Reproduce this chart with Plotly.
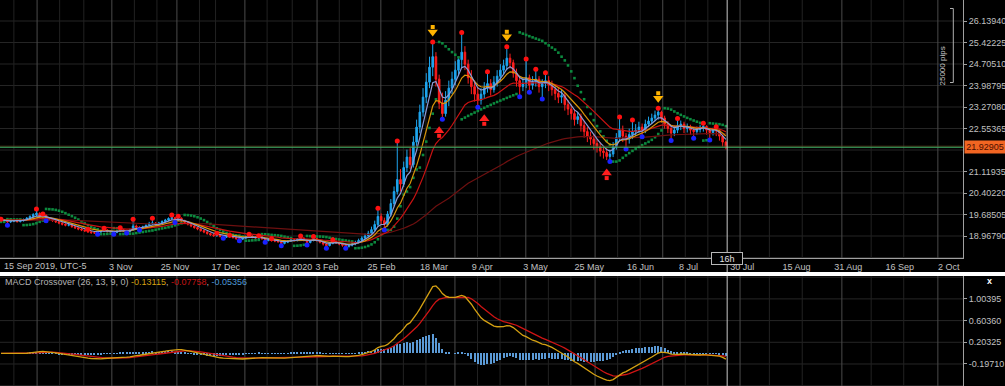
import numpy as np
import pandas as pd
import plotly.graph_objects as go

# ---------------- data (daily bars) ----------------
bar_open = [
    19.47, 19.50, 19.51, 19.44, 19.46, 19.49, 19.45, 19.48, 19.52, 19.56,
    19.62, 19.68, 19.72, 19.62, 19.66, 19.56, 19.53, 19.48, 19.44, 19.40,
    19.36, 19.33, 19.34, 19.28, 19.24, 19.20, 19.17, 19.14, 19.11, 19.08,
    19.07, 19.10, 19.13, 19.17, 19.12, 19.10, 19.09, 19.13, 19.18, 19.14,
    19.11, 19.17, 19.30, 19.26, 19.22, 19.27, 19.32, 19.38, 19.40, 19.35,
    19.40, 19.45, 19.50, 19.55, 19.58, 19.50, 19.56, 19.48, 19.42, 19.36,
    19.30, 19.25, 19.20, 19.15, 19.10, 19.05, 19.01, 18.98, 18.99, 18.96,
    18.93, 18.95, 18.96, 18.92, 18.88, 18.86, 18.90, 18.94, 18.97, 18.93,
    18.90, 18.94, 18.88, 18.82, 18.84, 18.82, 18.80, 18.78, 18.72, 18.76,
    18.80, 18.84, 18.82, 18.87, 18.90, 18.83, 18.75, 18.82, 18.88, 18.82,
    18.76, 18.70, 18.65, 18.72, 18.79, 18.74, 18.70, 18.66, 18.62, 18.66,
    18.70, 18.76, 18.82, 18.90, 18.97, 19.06, 19.18, 19.35, 19.62, 19.48,
    19.35, 19.70, 20.05, 20.45, 20.85, 20.70, 21.25, 21.60, 21.35, 22.10,
    22.60, 23.10, 23.60, 24.10, 24.60, 24.95, 24.20, 23.40, 23.05, 23.50,
    23.90, 24.20, 24.50, 24.85, 25.10, 24.70, 24.25, 23.95, 23.70, 23.50,
    23.70, 23.90, 24.05, 23.85, 24.10, 24.30, 24.50, 24.65, 24.90, 24.75,
    24.40, 24.15, 23.95, 24.05, 24.25, 24.00, 24.10, 24.20, 23.95, 24.05,
    24.15, 24.00, 23.85, 23.72, 23.60, 23.65, 23.35, 23.20, 23.05, 22.85,
    22.95, 22.65, 22.45, 22.30, 22.20, 22.05, 21.95, 21.80, 21.75, 21.62,
    21.70, 21.95, 22.25, 22.50, 22.30, 22.20, 22.35, 22.45, 22.50, 22.60,
    22.50, 22.70, 22.80, 22.90, 23.00, 23.10, 22.90, 22.70, 22.55, 22.40,
    22.50, 22.65, 22.70, 22.55, 22.60, 22.50, 22.45, 22.52, 22.60, 22.62,
    22.50, 22.42, 22.50, 22.48, 22.30, 22.10,
]
bar_high = [
    19.53, 19.52, 19.52, 19.49, 19.52, 19.51, 19.51, 19.55, 19.60, 19.66,
    19.73, 19.87, 19.76, 19.70, 19.68, 19.60, 19.56, 19.51, 19.47, 19.43,
    19.39, 19.38, 19.36, 19.31, 19.27, 19.23, 19.17, 19.19, 19.13, 19.11,
    19.13, 19.16, 19.23, 19.19, 19.15, 19.13, 19.17, 19.24, 19.20, 19.17,
    19.21, 19.53, 19.35, 19.29, 19.31, 19.36, 19.44, 19.56, 19.43, 19.44,
    19.49, 19.54, 19.59, 19.67, 19.61, 19.63, 19.59, 19.51, 19.45, 19.39,
    19.33, 19.28, 19.23, 19.18, 19.13, 19.08, 19.04, 19.06, 19.02, 18.99,
    18.98, 18.99, 18.98, 18.95, 18.91, 18.93, 18.98, 19.03, 18.99, 18.96,
    18.98, 18.96, 18.90, 18.87, 18.88, 18.85, 18.83, 18.80, 18.79, 18.83,
    18.87, 18.88, 18.90, 18.97, 18.92, 18.85, 18.85, 18.95, 18.90, 18.84,
    18.78, 18.73, 18.76, 18.84, 18.81, 18.77, 18.73, 18.69, 18.70, 18.74,
    18.81, 18.88, 18.96, 19.05, 19.14, 19.28, 19.48, 19.89, 19.72, 19.58,
    19.80, 20.20, 20.62, 22.14, 21.20, 21.45, 21.85, 21.90, 22.30, 22.85,
    23.35, 23.90, 24.40, 24.95, 25.44, 25.10, 24.35, 23.75, 23.80, 24.15,
    24.45, 24.80, 24.90, 25.76, 25.30, 24.85, 24.50, 24.15, 23.95, 23.90,
    24.10, 24.45, 24.20, 24.30, 24.50, 24.70, 24.85, 25.28, 25.05, 24.85,
    24.55, 24.30, 24.25, 24.87, 24.35, 24.30, 24.53, 24.30, 24.20, 24.41,
    24.30, 24.15, 24.00, 23.90, 23.85, 23.75, 23.50, 23.35, 23.20, 23.10,
    23.05, 22.80, 22.60, 22.45, 22.35, 22.20, 22.10, 21.95, 21.90, 21.85,
    22.10, 22.40, 22.94, 22.65, 22.40, 22.55, 22.84, 22.70, 22.78, 22.72,
    22.85, 22.95, 23.05, 23.15, 23.23, 23.15, 22.98, 22.80, 22.65, 22.65,
    22.89, 22.82, 22.78, 22.72, 22.68, 22.60, 22.62, 22.68, 22.73, 22.66,
    22.55, 22.58, 22.61, 22.52, 22.35, 22.15,
]
bar_low = [
    19.44, 19.46, 19.33, 19.40, 19.43, 19.41, 19.42, 19.45, 19.49, 19.53,
    19.58, 19.63, 19.57, 19.56, 19.48, 19.49, 19.44, 19.40, 19.36, 19.32,
    19.29, 19.29, 19.24, 19.20, 19.16, 19.13, 19.10, 19.07, 19.04, 19.04,
    19.03, 19.07, 19.10, 19.08, 19.06, 19.03, 19.06, 19.10, 19.10, 19.07,
    19.09, 19.14, 19.21, 19.17, 19.19, 19.24, 19.29, 19.34, 19.30, 19.32,
    19.37, 19.42, 19.47, 19.51, 19.42, 19.47, 19.44, 19.38, 19.32, 19.26,
    19.21, 19.16, 19.11, 19.06, 19.01, 18.97, 18.94, 18.94, 18.92, 18.89,
    18.90, 18.91, 18.88, 18.84, 18.81, 18.83, 18.87, 18.91, 18.89, 18.86,
    18.87, 18.84, 18.76, 18.79, 18.78, 18.76, 18.74, 18.64, 18.69, 18.73,
    18.77, 18.78, 18.79, 18.84, 18.79, 18.67, 18.72, 18.79, 18.78, 18.72,
    18.65, 18.56, 18.62, 18.69, 18.70, 18.66, 18.61, 18.56, 18.58, 18.62,
    18.66, 18.72, 18.78, 18.86, 18.93, 19.02, 19.12, 19.30, 19.36, 19.17,
    19.28, 19.62, 19.96, 20.35, 20.45, 20.60, 21.10, 21.20, 21.25, 21.95,
    22.40, 22.95, 23.40, 23.90, 24.30, 23.95, 23.20, 22.86, 22.95, 23.30,
    23.70, 24.00, 24.30, 24.60, 24.50, 24.05, 23.70, 23.45, 23.26, 23.35,
    23.55, 23.75, 23.65, 23.75, 23.95, 24.15, 24.35, 24.50, 24.55, 24.25,
    23.95, 23.61, 23.80, 23.90, 23.76, 23.85, 23.95, 23.75, 23.54, 23.90,
    23.80, 23.65, 23.50, 23.40, 23.40, 23.15, 23.00, 22.85, 22.65, 22.70,
    22.45, 22.25, 22.10, 22.00, 21.85, 21.75, 21.62, 21.55, 21.50, 21.45,
    21.60, 21.85, 22.15, 22.10, 21.87, 22.05, 22.20, 22.30, 22.40, 22.28,
    22.40, 22.60, 22.70, 22.80, 22.85, 22.75, 22.55, 22.40, 22.15, 22.30,
    22.40, 22.50, 22.40, 22.42, 22.35, 22.23, 22.35, 22.42, 22.45, 22.35,
    22.17, 22.32, 22.30, 22.15, 21.95, 21.86,
]
bar_close = [
    19.50, 19.51, 19.44, 19.46, 19.49, 19.45, 19.48, 19.52, 19.56, 19.62,
    19.68, 19.72, 19.62, 19.66, 19.56, 19.53, 19.48, 19.44, 19.40, 19.36,
    19.33, 19.34, 19.28, 19.24, 19.20, 19.17, 19.14, 19.11, 19.08, 19.07,
    19.10, 19.13, 19.17, 19.12, 19.10, 19.09, 19.13, 19.18, 19.14, 19.11,
    19.17, 19.30, 19.26, 19.22, 19.27, 19.32, 19.38, 19.40, 19.35, 19.40,
    19.45, 19.50, 19.55, 19.58, 19.50, 19.56, 19.48, 19.42, 19.36, 19.30,
    19.25, 19.20, 19.15, 19.10, 19.05, 19.01, 18.98, 18.99, 18.96, 18.93,
    18.95, 18.96, 18.92, 18.88, 18.86, 18.90, 18.94, 18.97, 18.93, 18.90,
    18.94, 18.88, 18.82, 18.84, 18.82, 18.80, 18.78, 18.72, 18.76, 18.80,
    18.84, 18.82, 18.87, 18.90, 18.83, 18.75, 18.82, 18.88, 18.82, 18.76,
    18.70, 18.65, 18.72, 18.79, 18.74, 18.70, 18.66, 18.62, 18.66, 18.70,
    18.76, 18.82, 18.90, 18.97, 19.06, 19.18, 19.35, 19.62, 19.48, 19.35,
    19.70, 20.05, 20.45, 20.85, 20.70, 21.25, 21.60, 21.35, 22.10, 22.60,
    23.10, 23.60, 24.10, 24.60, 24.95, 24.20, 23.40, 23.05, 23.50, 23.90,
    24.20, 24.50, 24.85, 25.10, 24.70, 24.25, 23.95, 23.70, 23.50, 23.70,
    23.90, 24.05, 23.85, 24.10, 24.30, 24.50, 24.65, 24.90, 24.75, 24.40,
    24.15, 23.95, 24.05, 24.25, 24.00, 24.10, 24.20, 23.95, 24.05, 24.15,
    24.00, 23.85, 23.72, 23.60, 23.65, 23.35, 23.20, 23.05, 22.85, 22.95,
    22.65, 22.45, 22.30, 22.20, 22.05, 21.95, 21.80, 21.75, 21.62, 21.70,
    21.95, 22.25, 22.50, 22.30, 22.20, 22.35, 22.45, 22.50, 22.60, 22.50,
    22.70, 22.80, 22.90, 23.00, 23.10, 22.90, 22.70, 22.55, 22.40, 22.50,
    22.65, 22.70, 22.55, 22.60, 22.50, 22.45, 22.52, 22.60, 22.62, 22.50,
    22.42, 22.50, 22.48, 22.30, 22.10, 21.929,
]

# fractal markers (bar indices)
fractal_high_idx = [0, 11, 13, 27, 32, 37, 41, 47, 53, 55, 67, 71, 77, 80, 84, 93, 97, 103,
                    117, 123, 134, 143, 151, 157, 163, 166, 169, 192, 196, 204, 210, 218, 222]
fractal_low_idx = [2, 14, 30, 35, 39, 43, 54, 69, 74, 82, 87, 95, 101, 107, 119, 137, 148,
                   161, 164, 168, 189, 194, 199, 208, 215, 220]
# signal arrows (bar indices)
sell_arrow_idx = [134, 157, 204]
buy_arrow_idx = [136, 150, 188]

# time axis labels (positions in bar units)
first_date_label = "15 Sep 2019, UTC-5"
date_tick_pos = [37.2, 54.0, 69.8, 88.9, 101.2, 118.1, 134.4, 149.4, 165.9, 182.6,
                 198.5, 213.4, 230.1, 246.9, 263.0, 279.0, 294.2]
date_tick_text = ["3 Nov", "25 Nov", "17 Dec", "12 Jan 2020", "3 Feb",
                  "25 Feb", "18 Mar", "9 Apr", "3 May", "25 May", "16 Jun", "8 Jul", "30 Jul",
                  "15 Aug", "31 Aug", "16 Sep", "2 Oct"]
month_lines = [11.2, 34.4, 54.6, 75.7, 98.1, 117.9, 140.9, 162.9, 184.4, 205.4, 229.4, 261.0, 290.8]
minor_lines = [4.0, 18.2, 25.7, 41.4, 48.4, 61.6, 66.6, 82.6, 90.4, 105.0, 112.0, 124.9, 131.9,
               147.9, 154.9, 169.9, 176.9, 191.4, 198.4, 212.4, 219.4, 238.5, 248.7, 270.1, 280.2]

price_ticks = [26.13940, 25.42225, 24.70510, 23.98795, 23.27080, 22.55365,
               21.11935, 20.40220, 19.68505, 18.96790]
price_grid = [26.85655, 26.13940, 25.42225, 24.70510, 23.98795, 23.27080, 22.55365,
              21.83650, 21.11935, 20.40220, 19.68505, 18.96790, 18.25075]
macd_ticks = [1.00395, 0.60360, 0.20325, -0.19710]
macd_grid = [1.40430, 1.00395, 0.60360, 0.20325, -0.19710, -0.59745]
last_price = 21.92905
macd_legend_values = ["-0.13115", "-0.07758", "-0.05356"]

# ---------------- indicators ----------------
n = len(bar_close)
xi = np.arange(n)
cs = pd.Series(bar_close, dtype=float)
ema5 = cs.ewm(span=5, adjust=False).mean()
ema9 = cs.ewm(span=9, adjust=False).mean()
ema21 = cs.ewm(span=21, adjust=False).mean()
ema100 = cs.ewm(span=100, adjust=False).mean()
macd = cs.ewm(span=13, adjust=False).mean() - cs.ewm(span=26, adjust=False).mean()
signal = macd.ewm(span=9, adjust=False).mean()
hist = macd - signal


def parabolic_sar(high, low, step=0.02, max_step=0.2):
    out = [np.nan] * len(high)
    up = True
    af = step
    ep = high[0]
    out[0] = low[0]
    for i in range(1, len(high)):
        s = out[i - 1] + af * (ep - out[i - 1])
        if up:
            s = min(s, low[i - 1], low[max(i - 2, 0)])
            if low[i] < s:
                up, s, ep, af = False, ep, low[i], step
            elif high[i] > ep:
                ep, af = high[i], min(af + step, max_step)
        else:
            s = max(s, high[i - 1], high[max(i - 2, 0)])
            if high[i] > s:
                up, s, ep, af = True, ep, high[i], step
            elif low[i] < ep:
                ep, af = low[i], min(af + step, max_step)
        out[i] = s
    return out


sar = parabolic_sar(bar_high, bar_low)

hi = np.array(bar_high)
lo = np.array(bar_low)
sell_y = [hi[max(i - 2, 0):i + 3].max() + 0.33 for i in sell_arrow_idx]
buy_y = [lo[max(i - 2, 0):i + 3].min() - 0.38 for i in buy_arrow_idx]

# ---------------- figure ----------------
FONT = "Liberation Sans, Arial, sans-serif"
fig = go.Figure()

fig.add_trace(go.Scatter(x=xi, y=sar, mode="markers", marker=dict(symbol="square", size=2.6, color="#0c8a3e"),
                         xaxis="x", yaxis="y"))
fig.add_trace(go.Candlestick(x=xi, open=bar_open, high=bar_high, low=bar_low, close=bar_close,
                             increasing=dict(line=dict(color="#1ea5ee", width=1), fillcolor="#1ea5ee"),
                             decreasing=dict(line=dict(color="#ff1e1e", width=1), fillcolor="#ff1e1e"),
                             whiskerwidth=0, xaxis="x", yaxis="y"))
fig.add_trace(go.Scatter(x=xi, y=ema100, mode="lines", line=dict(color="#6e1010", width=1.2), xaxis="x", yaxis="y"))
fig.add_trace(go.Scatter(x=xi, y=ema21, mode="lines", line=dict(color="#c81212", width=1.2), xaxis="x", yaxis="y"))
fig.add_trace(go.Scatter(x=xi, y=ema9, mode="lines", line=dict(color="#d8940a", width=1.2), xaxis="x", yaxis="y"))
fig.add_trace(go.Scatter(x=xi, y=ema5, mode="lines", line=dict(color="#8c9ad6", width=1.2), xaxis="x", yaxis="y"))
fig.add_trace(go.Scatter(x=fractal_high_idx, y=[bar_high[i] for i in fractal_high_idx], mode="markers",
                         marker=dict(size=5, color="#ff1010"), xaxis="x", yaxis="y"))
fig.add_trace(go.Scatter(x=fractal_low_idx, y=[bar_low[i] for i in fractal_low_idx], mode="markers",
                         marker=dict(size=5, color="#1a22ff"), xaxis="x", yaxis="y"))
# arrows: head + stem
fig.add_trace(go.Scatter(x=sell_arrow_idx, y=sell_y, mode="markers",
                         marker=dict(symbol="triangle-down", size=9, color="#ffb300"), xaxis="x", yaxis="y"))
fig.add_trace(go.Scatter(x=sell_arrow_idx, y=[v + 0.17 for v in sell_y], mode="markers",
                         marker=dict(symbol="square", size=4, color="#ffb300"), xaxis="x", yaxis="y"))
fig.add_trace(go.Scatter(x=buy_arrow_idx, y=buy_y, mode="markers",
                         marker=dict(symbol="triangle-up", size=9, color="#ff1e1e"), xaxis="x", yaxis="y"))
fig.add_trace(go.Scatter(x=buy_arrow_idx, y=[v - 0.17 for v in buy_y], mode="markers",
                         marker=dict(symbol="square", size=4, color="#ff1e1e"), xaxis="x", yaxis="y"))

# MACD panel
fig.add_trace(go.Bar(x=xi, y=hist, width=0.35, marker=dict(color="#5b9ad6", line=dict(width=0)),
                     xaxis="x2", yaxis="y2"))
fig.add_trace(go.Scatter(x=xi, y=signal, mode="lines", line=dict(color="#d01414", width=1.3), xaxis="x2", yaxis="y2"))
fig.add_trace(go.Scatter(x=xi, y=macd, mode="lines", line=dict(color="#d4a012", width=1.3), xaxis="x2", yaxis="y2"))

shapes = []
for v in price_grid:
    shapes.append(dict(type="line", xref="x domain", x0=0, x1=1, yref="y", y0=v, y1=v,
                       line=dict(color="#252525", width=1), layer="below"))
for v in macd_grid:
    shapes.append(dict(type="line", xref="x2 domain", x0=0, x1=1, yref="y2", y0=v, y1=v,
                       line=dict(color="#252525", width=1), layer="below"))
for xv in minor_lines:
    for yr in ("y domain", "y2 domain"):
        shapes.append(dict(type="line", xref="x", x0=xv, x1=xv, yref=yr, y0=0, y1=1,
                           line=dict(color="#222222", width=1), layer="below"))
for xv in month_lines:
    for yr in ("y domain", "y2 domain"):
        shapes.append(dict(type="line", xref="x", x0=xv, x1=xv, yref=yr, y0=0, y1=1,
                           line=dict(color="#4a4a4a", width=1), layer="below"))
# last price line
shapes.append(dict(type="line", xref="x domain", x0=0, x1=1, yref="y", y0=last_price + 0.035, y1=last_price + 0.035,
                   line=dict(color="#5a3a18", width=0.8)))
shapes.append(dict(type="line", xref="x domain", x0=0, x1=1, yref="y", y0=last_price, y1=last_price,
                   line=dict(color="#3fb068", width=1.2)))
# cursor line
shapes.append(dict(type="line", xref="x", x0=225.4, x1=225.4, yref="paper", y0=0, y1=1,
                   line=dict(color="#c8c8c8", width=1)))
# panel separator
shapes.append(dict(type="rect", xref="paper", x0=-0.01, x1=1.06, yref="paper", y0=0.2850, y1=0.2953,
                   fillcolor="#ffffff", line=dict(width=0)))
# 25000 pips bracket
bx = 953.3 / 963
shapes.append(dict(type="line", xref="paper", yref="paper", x0=bx, x1=bx, y0=1 - 8.5 / 386, y1=1 - 82.5 / 386,
                   line=dict(color="#b0b0b0", width=1)))
for yy in (8.5, 82.5):
    shapes.append(dict(type="line", xref="paper", yref="paper", x0=950 / 963, x1=bx, y0=1 - yy / 386, y1=1 - yy / 386,
                       line=dict(color="#b0b0b0", width=1)))

annotations = [
    dict(xref="paper", x=1, xanchor="left", yref="y", y=last_price, text="21.92905", showarrow=False,
         bgcolor="#f26522", font=dict(family=FONT, size=9, color="#4a0d00"), width=38, height=10, borderpad=1,
         xshift=1),
    dict(xref="x", x=225.4, yref="paper", y=1 - 258 / 386, yanchor="middle", text="16h", showarrow=False,
         bgcolor="#000000", bordercolor="#b8b8b8", borderwidth=1, borderpad=1,
         font=dict(family=FONT, size=9, color="#e0e0e0"), width=28, height=9),
    dict(xref="paper", x=2 / 963, xanchor="left", yref="paper", y=1 - 266 / 386, yanchor="middle",
         text=first_date_label, showarrow=False, font=dict(family=FONT, size=9, color="#c0c0c0")),
    dict(xref="paper", x=0.003, xanchor="left", yref="paper", y=1 - 282 / 386, yanchor="middle", showarrow=False,
         text=("MACD Crossover (26, 13, 9, 0) "
               f"<span style='color:#d4a012'>{macd_legend_values[0]}</span>, "
               f"<span style='color:#c81414'>{macd_legend_values[1]}</span>, "
               f"<span style='color:#4f9ad8'>{macd_legend_values[2]}</span>"),
         font=dict(family=FONT, size=9, color="#b4b4b4")),
    dict(xref="paper", x=994 / 963, yref="paper", y=1 - 288 / 386, text="<b>x</b>", showarrow=False,
         font=dict(family=FONT, size=9, color="#ffffff")),
    dict(xref="paper", x=948.5 / 963, yref="paper", y=1 - 45 / 386, text="25000 pips", textangle=-90,
         showarrow=False, font=dict(family=FONT, size=8, color="#c8c8c8")),
]

fig.update_layout(
    width=1005, height=386, autosize=False,
    margin=dict(l=0, r=42, t=0, b=0, pad=0),
    paper_bgcolor="#000000", plot_bgcolor="#000000",
    showlegend=False, bargap=0, hovermode=False,
    font=dict(family=FONT, size=9, color="#bdbdbd"),
    xaxis=dict(domain=[0, 1], anchor="y", range=[-0.31, 298.6], tickvals=date_tick_pos, ticktext=date_tick_text,
               showgrid=False, zeroline=False, showline=True, linecolor="#a0a0a0", linewidth=1, ticks="",
               tickfont=dict(family=FONT, size=9, color="#c0c0c0"), rangeslider=dict(visible=False),
               fixedrange=True),
    xaxis2=dict(domain=[0, 1], anchor="y2", matches="x", showticklabels=False, showgrid=False, zeroline=False,
                showline=False, ticks=""),
    yaxis=dict(domain=[1 - 258 / 386, 1], anchor="x", side="right", range=[18.234, 26.840],
               tickvals=price_ticks, ticktext=[f"{v:.5f}" for v in price_ticks], showgrid=False, zeroline=False,
               showline=True, linecolor="#a0a0a0", linewidth=1, ticks="outside", ticklen=3, tickcolor="#a0a0a0",
               tickfont=dict(family=FONT, size=9, color="#c0c0c0")),
    yaxis2=dict(domain=[0, 1 - 276 / 386], anchor="x2", side="right", range=[-0.603, 1.426],
                tickvals=macd_ticks, ticktext=[f"{v:.5f}" for v in macd_ticks], showgrid=False, zeroline=False,
                showline=True, linecolor="#a0a0a0", linewidth=1, ticks="outside", ticklen=3, tickcolor="#a0a0a0",
                tickfont=dict(family=FONT, size=9, color="#c0c0c0")),
    shapes=shapes,
    annotations=annotations,
)

fig.write_html("out.html", config={"displayModeBar": False},
               post_script="document.body.style.margin='0px';document.body.style.padding='0px';")
